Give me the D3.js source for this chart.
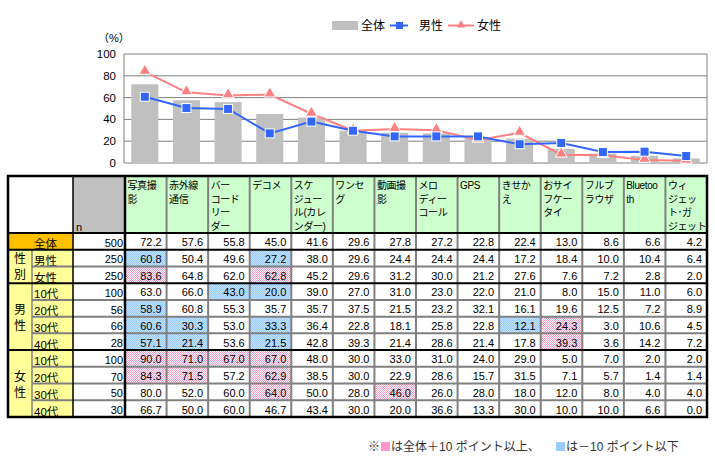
<!DOCTYPE html>
<html>
<head>
<meta charset="utf-8">
<script src="https://cdn.jsdelivr.net/npm/d3@7"></script>
<style>
  body { margin: 0; background: #fff; }
  svg { display: block; font-family: "Liberation Sans", "Noto Sans CJK JP", sans-serif; }
</style>
</head>
<body>
<svg id="chart" width="715" height="462"></svg>
<script>
// ---- data ----
const categories = ["写真撮影", "赤外線通信", "バーコードリーダー", "デコメ", "スケジュール(カレンダー)",
  "ワンセグ", "動画撮影", "メロディーコール", "GPS", "きせかえ", "おサイフケータイ",
  "フルブラウザ", "Bluetooth", "ウィジェット･ガジェット"];

const headerLines = [
  ["写真撮", "影"], ["赤外線", "通信"], ["バー", "コード", "リー", "ダー"], ["デコメ"],
  ["スケ", "ジュー", "ル(カレ", "ンダー)"], ["ワンセ", "グ"], ["動画撮", "影"],
  ["メロ", "ディー", "コール"], ["GPS"], ["きせか", "え"], ["おサイ", "フケー", "タイ"],
  ["フルブ", "ラウザ"], ["Bluetoo", "th"], ["ウィ", "ジェッ", "ト･ガ", "ジェット"]
];

const total    = [72.2, 57.6, 55.8, 45.0, 41.6, 29.6, 27.8, 27.2, 22.8, 22.4, 13.0, 8.6, 6.6, 4.2];
const male     = [60.8, 50.4, 49.6, 27.2, 38.0, 29.6, 24.4, 24.4, 24.4, 17.2, 18.4, 10.0, 10.4, 6.4];
const female   = [83.6, 64.8, 62.0, 62.8, 45.2, 29.6, 31.2, 30.0, 21.2, 27.6, 7.6, 7.2, 2.8, 2.0];
const male10   = [63.0, 66.0, 43.0, 20.0, 39.0, 27.0, 31.0, 23.0, 22.0, 21.0, 8.0, 15.0, 11.0, 6.0];
const male20   = [58.9, 60.8, 55.3, 35.7, 35.7, 37.5, 21.5, 23.2, 32.1, 16.1, 19.6, 12.5, 7.2, 8.9];
const male30   = [60.6, 30.3, 53.0, 33.3, 36.4, 22.8, 18.1, 25.8, 22.8, 12.1, 24.3, 3.0, 10.6, 4.5];
const male40   = [57.1, 21.4, 53.6, 21.5, 42.8, 39.3, 21.4, 28.6, 21.4, 17.8, 39.3, 3.6, 14.2, 7.2];
const female10 = [90.0, 71.0, 67.0, 67.0, 48.0, 30.0, 33.0, 31.0, 24.0, 29.0, 5.0, 7.0, 2.0, 2.0];
const female20 = [84.3, 71.5, 57.2, 62.9, 38.5, 30.0, 22.9, 28.6, 15.7, 31.5, 7.1, 5.7, 1.4, 1.4];
const female30 = [80.0, 52.0, 60.0, 64.0, 50.0, 28.0, 46.0, 26.0, 28.0, 18.0, 12.0, 8.0, 4.0, 4.0];
const female40 = [66.7, 50.0, 60.0, 46.7, 43.4, 30.0, 20.0, 36.6, 13.3, 30.0, 10.0, 10.0, 6.6, 0.0];

const rowLabels = ["全体", "男性", "女性", "10代", "20代", "30代", "40代", "10代", "20代", "30代", "40代"];
const rowN = [500, 250, 250, 100, 56, 66, 28, 100, 70, 50, 30];
const rowValues = [total, male, female, male10, male20, male30, male40, female10, female20, female30, female40];
const groupLabels = [["性", "別"], ["男", "性"], ["女", "性"]];
const groupSpans = [[1, 3], [3, 7], [7, 11]];
const yTicks = [0, 20, 40, 60, 80, 100];

// ---- layout ----
const svg = d3.select("#chart");
const left = 8, col1 = 32, col2 = 73, dataLeft = 125, right = 707;
const headTop = 176, headBottom = 233, tableBottom = 417;
const rowH = (tableBottom - headBottom) / rowLabels.length;
const rowY = i => headBottom + i * rowH;

const defs = svg.append("defs");
function dots(id, base, dot) {
  const p = defs.append("pattern").attr("id", id).attr("patternUnits", "userSpaceOnUse")
    .attr("width", 2).attr("height", 2);
  p.append("rect").attr("width", 2).attr("height", 2).attr("fill", base);
  p.append("rect").attr("width", 1).attr("height", 1).attr("fill", dot);
  p.append("rect").attr("x", 1).attr("y", 1).attr("width", 1).attr("height", 1).attr("fill", dot);
}
dots("pinkDots", "#ffffff", "#ff99cc");
dots("blueDots", "#c4e2ff", "#99ccff");

// ---- chart ----
const col = d3.scaleBand().domain(categories).range([dataLeft, right]);
const x = d3.scaleBand().domain(categories).range([124, right]).paddingInner(0.35).paddingOuter(0.175);
const y = d3.scaleLinear().domain([0, 100]).range([163, 54]);

const chart = svg.append("g");
chart.selectAll("line.grid").data(yTicks).join("line")
  .attr("x1", 124).attr("x2", right)
  .attr("y1", d => y(d)).attr("y2", d => y(d))
  .attr("stroke", "#808080").attr("stroke-width", 1);
chart.append("line").attr("x1", 124).attr("x2", 124).attr("y1", y(100)).attr("y2", y(0)).attr("stroke", "#808080");
chart.append("line").attr("x1", right).attr("x2", right).attr("y1", y(100)).attr("y2", y(0)).attr("stroke", "#808080");

chart.selectAll("text.tick").data(yTicks).join("text")
  .attr("x", 116).attr("y", d => y(d) + 4)
  .attr("text-anchor", "end").attr("font-size", 11.5).text(d => d);
chart.append("text").attr("x", 98).attr("y", 42).attr("font-size", 11).text("（%）");

chart.selectAll("rect.bar").data(total).join("rect")
  .attr("x", (d, i) => x(categories[i])).attr("width", x.bandwidth())
  .attr("y", d => y(d)).attr("height", d => y(0) - y(d))
  .attr("fill", "#c0c0c0");

const cx = i => x(categories[i]) + x.bandwidth() / 2;
const line = d3.line().x((d, i) => cx(i)).y(d => y(d));
const tri = d3.symbol().type(d3.symbolTriangle).size(60);

chart.append("path").attr("d", line(female)).attr("fill", "none").attr("stroke", "#ff8080").attr("stroke-width", 2);
chart.append("path").attr("d", line(male)).attr("fill", "none").attr("stroke", "#3366ff").attr("stroke-width", 2);
chart.selectAll("path.tri").data(female).join("path")
  .attr("d", tri).attr("transform", (d, i) => `translate(${cx(i)},${y(d) - 1})`)
  .attr("fill", "#ff8080").attr("stroke", "#fff").attr("stroke-width", 1);
chart.selectAll("rect.sq").data(male).join("rect")
  .attr("x", (d, i) => cx(i) - 4.5).attr("y", d => y(d) - 4.5)
  .attr("width", 9).attr("height", 9)
  .attr("fill", "#3366ff").attr("stroke", "#fff").attr("stroke-width", 1);

// legend
const lg = svg.append("g").attr("font-size", 12);
lg.append("rect").attr("x", 332).attr("y", 21).attr("width", 26).attr("height", 9).attr("fill", "#c0c0c0");
lg.append("text").attr("x", 361).attr("y", 30).text("全体");
lg.append("line").attr("x1", 390).attr("x2", 408).attr("y1", 25.5).attr("y2", 25.5).attr("stroke", "#3366ff").attr("stroke-width", 2);
lg.append("rect").attr("x", 396).attr("y", 22).attr("width", 7).attr("height", 7).attr("fill", "#3366ff");
lg.append("text").attr("x", 419).attr("y", 30).text("男性");
lg.append("line").attr("x1", 448).attr("x2", 474).attr("y1", 25.5).attr("y2", 25.5).attr("stroke", "#ff8080").attr("stroke-width", 2);
lg.append("path").attr("d", d3.symbol().type(d3.symbolTriangle).size(30)).attr("transform", "translate(461,25)").attr("fill", "#ff8080");
lg.append("text").attr("x", 477).attr("y", 30).text("女性");

// ---- table ----
const t = svg.append("g");
// header
t.append("rect").attr("x", left).attr("y", headTop).attr("width", col2 - left).attr("height", headBottom - headTop).attr("fill", "#fff");
t.append("rect").attr("x", col2).attr("y", headTop).attr("width", dataLeft - col2).attr("height", headBottom - headTop).attr("fill", "#c0c0c0");
t.append("text").attr("x", 76).attr("y", 231).attr("font-size", 11).text("n");
t.selectAll("rect.head").data(categories).join("rect")
  .attr("x", d => col(d)).attr("y", headTop).attr("width", col.bandwidth()).attr("height", headBottom - headTop)
  .attr("fill", "#ccffcc");
categories.forEach((c, i) => {
  t.append("text").attr("font-size", 10).attr("letter-spacing", -0.4)
    .selectAll("tspan").data(headerLines[i]).join("tspan")
    .attr("x", col(c) + 2.5).attr("y", (d, j) => 189 + j * 13.7).text(d => d);
});

// row label cells
t.append("rect").attr("x", left).attr("y", rowY(0)).attr("width", col2 - left).attr("height", rowH).attr("fill", "#ffc000");
t.selectAll("rect.lab").data(rowLabels.slice(1)).join("rect")
  .attr("x", left).attr("y", (d, i) => rowY(i + 1)).attr("width", col2 - left).attr("height", rowH)
  .attr("fill", "#ffff99");
t.selectAll("text.lab").data(rowLabels).join("text")
  .attr("x", 34).attr("y", (d, i) => rowY(i + 1) - 1.5).attr("font-size", 11.5).text(d => d);
groupLabels.forEach((g, k) => {
  const mid = (rowY(groupSpans[k][0]) + rowY(groupSpans[k][1])) / 2;
  t.append("text").attr("font-size", 12).attr("text-anchor", "middle")
    .selectAll("tspan").data(g).join("tspan")
    .attr("x", 20).attr("y", (d, j) => mid - 3 + j * 16).text(d => d);
});

// n column
t.selectAll("text.n").data(rowN).join("text")
  .attr("x", dataLeft - 2).attr("y", (d, i) => rowY(i + 1) - 3)
  .attr("text-anchor", "end").attr("font-size", 11).text(d => d);

// data cells
rowValues.forEach((vals, r) => {
  const g = t.append("g");
  g.selectAll("rect").data(vals).join("rect")
    .attr("x", (d, i) => col(categories[i])).attr("y", rowY(r)).attr("width", col.bandwidth()).attr("height", rowH)
    .attr("fill", (d, i) => r === 0 ? "#fff" : d - total[i] >= 10 ? "url(#pinkDots)" : d - total[i] <= -10 ? "url(#blueDots)" : "#fff");
  g.selectAll("text").data(vals).join("text")
    .attr("x", (d, i) => col(categories[i]) + col.bandwidth() - 5).attr("y", rowY(r + 1) - 3.5)
    .attr("text-anchor", "end").attr("font-size", 11).text(d => d3.format(".1f")(d));
});

// grid lines
const gray = "#808080";
[2, 4, 5, 6, 8, 9, 10].forEach(i => {
  t.append("line").attr("x1", col1).attr("x2", right).attr("y1", rowY(i)).attr("y2", rowY(i)).attr("stroke", gray).attr("stroke-width", 2);
});
categories.slice(1).forEach(c => {
  t.append("line").attr("x1", col(c)).attr("x2", col(c)).attr("y1", headTop).attr("y2", tableBottom).attr("stroke", gray).attr("stroke-width", 2);
});
t.append("line").attr("x1", col1).attr("x2", col1).attr("y1", rowY(1)).attr("y2", tableBottom).attr("stroke", gray).attr("stroke-width", 1.5);
t.append("line").attr("x1", col2).attr("x2", col2).attr("y1", headTop).attr("y2", tableBottom).attr("stroke", "#000").attr("stroke-width", 1.5);
[0, 1, 3, 7].forEach(i => {
  t.append("line").attr("x1", left).attr("x2", right).attr("y1", rowY(i)).attr("y2", rowY(i)).attr("stroke", "#000").attr("stroke-width", 2);
});
t.append("line").attr("x1", dataLeft).attr("x2", dataLeft).attr("y1", headTop).attr("y2", tableBottom).attr("stroke", "#000").attr("stroke-width", 2.5);
t.append("rect").attr("x", left).attr("y", headTop).attr("width", right - left).attr("height", tableBottom - headTop)
  .attr("fill", "none").attr("stroke", "#000").attr("stroke-width", 2.5);

// note
const note = svg.append("g").attr("font-size", 12).attr("fill", "#333");
note.append("text").attr("x", 368).attr("y", 451).text("※");
note.append("rect").attr("x", 381).attr("y", 442).attr("width", 9).attr("height", 9).attr("fill", "#ff99cc");
note.append("text").attr("x", 391).attr("y", 451).text("は全体＋10 ポイント以上、");
note.append("rect").attr("x", 556).attr("y", 442).attr("width", 9).attr("height", 9).attr("fill", "#99ccff");
note.append("text").attr("x", 566).attr("y", 451).text("は－10 ポイント以下");
</script>
</body>
</html>
